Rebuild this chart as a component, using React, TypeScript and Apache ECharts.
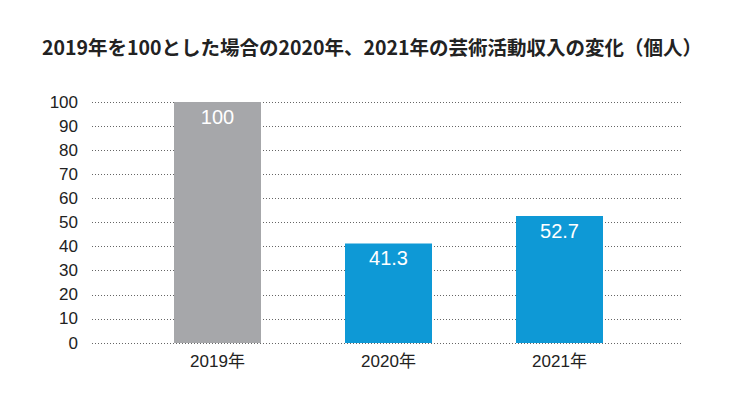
import React, { useEffect, useRef } from "react";
import * as echarts from "echarts";

const categories = ["2019年", "2020年", "2021年"];
const values = [100, 41.3, 52.7];
const barColors = ["#a6a7aa", "#0e99d6", "#0e99d6"];
const yTicks = [0, 10, 20, 30, 40, 50, 60, 70, 80, 90, 100];
const titleText = "2019年を100とした場合の2020年、2021年の芸術活動収入の変化（個人）";

export default function App() {
  const ref = useRef<HTMLDivElement>(null);
  useEffect(() => {
    if (!ref.current) return;
    const chart = echarts.init(ref.current, null, { renderer: "svg" });
    const font = "'Liberation Sans', 'Noto Sans CJK JP', sans-serif";
    chart.setOption({
      animation: false,
      backgroundColor: "#ffffff",
      title: {
        text: titleText,
        left: 367,
        textAlign: "center",
        top: 32,
        textStyle: {
          fontFamily: "'Noto Sans CJK JP', sans-serif",
          fontSize: 19.5,
          fontWeight: "bold",
          color: "#222",
        },
      },
      grid: [
        { left: 92, right: 60, top: 102, bottom: 62 },
        { left: 132, width: 513, top: 102, bottom: 62 },
      ],
      xAxis: [
        { type: "value", gridIndex: 0, show: false, min: 0, max: 1 },
        {
          type: "category",
          gridIndex: 1,
          data: categories,
          axisLine: { show: false },
          axisTick: { show: false },
          axisLabel: { fontSize: 17, color: "#222", margin: 10, fontFamily: font },
        },
      ],
      yAxis: [
        {
          type: "value",
          gridIndex: 0,
          min: 0,
          max: 100,
          interval: 10,
          axisLine: { show: false },
          axisTick: { show: false },
          axisLabel: {
            fontSize: 17,
            color: "#222",
            margin: 14,
            fontFamily: font,
            formatter: (v: number) => (yTicks.includes(v) ? String(v) : ""),
          },
          splitLine: { lineStyle: { type: [1, 2], color: "#666", width: 1 } },
        },
        {
          type: "value",
          gridIndex: 1,
          min: 0,
          max: 100,
          interval: 10,
          show: false,
          splitLine: { show: false },
        },
      ],
      series: [
        {
          type: "bar",
          xAxisIndex: 1,
          yAxisIndex: 1,
          barWidth: 87,
          data: values.map((v, i) => ({ value: v, itemStyle: { color: barColors[i] } })),
          label: {
            show: true,
            position: "insideTop",
            distance: 5,
            color: "#fff",
            fontSize: 20,
            fontFamily: font,
          },
        },
      ],
    });
    return () => chart.dispose();
  }, []);
  return (
    <div
      ref={ref}
      style={{ position: "fixed", left: 0, top: 0, width: 742, height: 405 }}
    />
  );
}
